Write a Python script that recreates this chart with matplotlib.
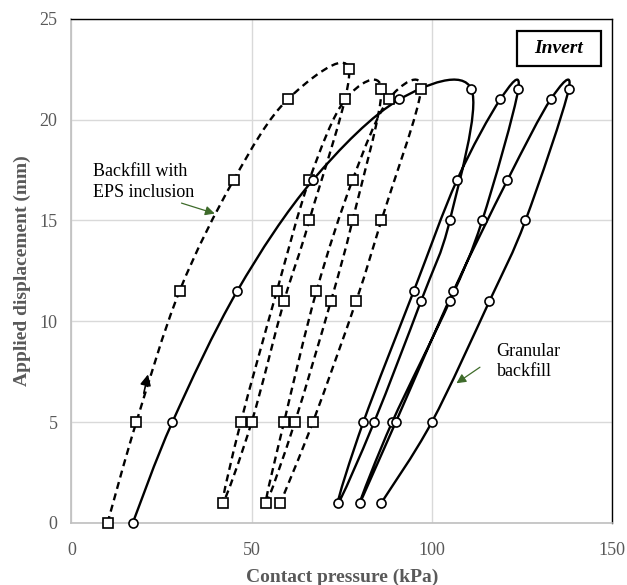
import numpy as np
import matplotlib
matplotlib.use('Agg')
import matplotlib.pyplot as plt
from matplotlib.path import Path
from matplotlib.patches import PathPatch, Rectangle

plt.rcParams['font.family'] = ['Liberation Serif', 'DejaVu Serif']

# Backfill with EPS inclusion (dashed, squares): load / unload cycles in order
eps_x = [10, 18, 30, 45, 60, 77, 66, 59, 50, 42,
         47, 57, 66, 76, 86, 78, 72, 62, 54,
         59, 68, 78, 88, 97, 86, 79, 67, 58]
eps_y = [0, 5, 11.5, 17, 21, 22.5, 15, 11, 5, 1,
         5, 11.5, 17, 21, 21.5, 15, 11, 5, 1,
         5, 11.5, 17, 21, 21.5, 15, 11, 5, 1]

# Granular backfill (solid, circles)
gran_x = [17, 28, 46, 67, 91, 111, 105, 97, 84, 74,
          81, 95, 107, 119, 124, 114, 105, 89, 80,
          90, 106, 121, 133, 138, 126, 116, 100, 86]
gran_y = [0, 5, 11.5, 17, 21, 21.5, 15, 11, 5, 1,
          5, 11.5, 17, 21, 21.5, 15, 11, 5, 1,
          5, 11.5, 17, 21, 21.5, 15, 11, 5, 1]

x_ticks = [0, 50, 100, 150]
y_ticks = [0, 5, 10, 15, 20, 25]


# smoothed line like Excel (Catmull-Rom as cubic Bezier)
def smooth_path(xs, ys):
    p = np.column_stack([xs, ys]).astype(float)
    n = len(p)
    verts = [p[0]]
    codes = [Path.MOVETO]
    for i in range(n - 1):
        p0 = p[i - 1] if i > 0 else p[i]
        p3 = p[i + 2] if i + 2 < n else p[i + 1]
        c1 = p[i] + (p[i + 1] - p0) / 6
        c2 = p[i + 1] - (p3 - p[i]) / 6
        verts += [c1, c2, p[i + 1]]
        codes += [Path.CURVE4] * 3
    return Path(verts, codes)


fig = plt.figure(figsize=(6.27, 5.85), dpi=100)
ax = fig.add_axes([0.114, 0.106, 0.862, 0.862])

ax.add_patch(PathPatch(smooth_path(eps_x, eps_y), fill=False, edgecolor='black',
                       lw=1.7, linestyle=(0, (3, 2)), capstyle='butt', zorder=3))
ax.add_patch(PathPatch(smooth_path(gran_x, gran_y), fill=False, edgecolor='black',
                       lw=1.7, zorder=3))
ax.plot(eps_x, eps_y, linestyle='none', marker='s', ms=6.5, mfc='white', mec='black',
        mew=1.2, clip_on=False, zorder=4)
ax.plot(gran_x, gran_y, linestyle='none', marker='o', ms=6.5, mfc='white', mec='black',
        mew=1.2, clip_on=False, zorder=4)

ax.set_xlim(0, 150)
ax.set_ylim(0, 25)
ax.set_xticks(x_ticks)
ax.set_yticks(y_ticks)
ax.grid(True, color='#d9d9d9', lw=1)
ax.set_axisbelow(True)
ax.tick_params(length=0, labelsize=13, labelcolor='#595959')
ax.tick_params(axis='x', pad=14)
ax.tick_params(axis='y', pad=10)
for s in ['top', 'right']:
    ax.spines[s].set_color('black')
    ax.spines[s].set_linewidth(1)
for s in ['left', 'bottom']:
    ax.spines[s].set_color('#bfbfbf')
    ax.spines[s].set_linewidth(1.2)

ax.set_xlabel('Contact pressure (kPa)', fontsize=14, fontweight='bold', color='#595959', labelpad=7)
ax.set_ylabel('Applied displacement (mm)', fontsize=14, fontweight='bold', color='#595959', labelpad=6)

# labels and arrows
ax.text(6, 16.9, 'Backfill with\nEPS inclusion', fontsize=13, va='center', ha='left', linespacing=1.25)
ax.annotate('', xy=(40.5, 15.3), xytext=(29.8, 15.9),
            arrowprops=dict(arrowstyle='-|>', color='#3e6b2a', lw=0.9, mutation_scale=14))
ax.text(118, 8.0, 'Granular\nbackfill', fontsize=13, va='center', ha='left', linespacing=1.25)
ax.annotate('', xy=(106.2, 6.85), xytext=(114, 7.8),
            arrowprops=dict(arrowstyle='-|>', color='#3e6b2a', lw=0.9, mutation_scale=14))
ax.annotate('', xy=(21.4, 7.5), xytext=(19.9, 6.3),
            arrowprops=dict(arrowstyle='-|>', color='black', lw=1.2, mutation_scale=16))

ax.add_patch(Rectangle((0.824, 0.906), 0.156, 0.069, transform=ax.transAxes,
                       fill=True, facecolor='white', edgecolor='black', lw=1.6, zorder=5))
ax.text(0.902, 0.9405, 'Invert', transform=ax.transAxes, fontsize=14, fontweight='bold',
        fontstyle='italic', ha='center', va='center', zorder=6)

plt.savefig('out.png', dpi=100)
